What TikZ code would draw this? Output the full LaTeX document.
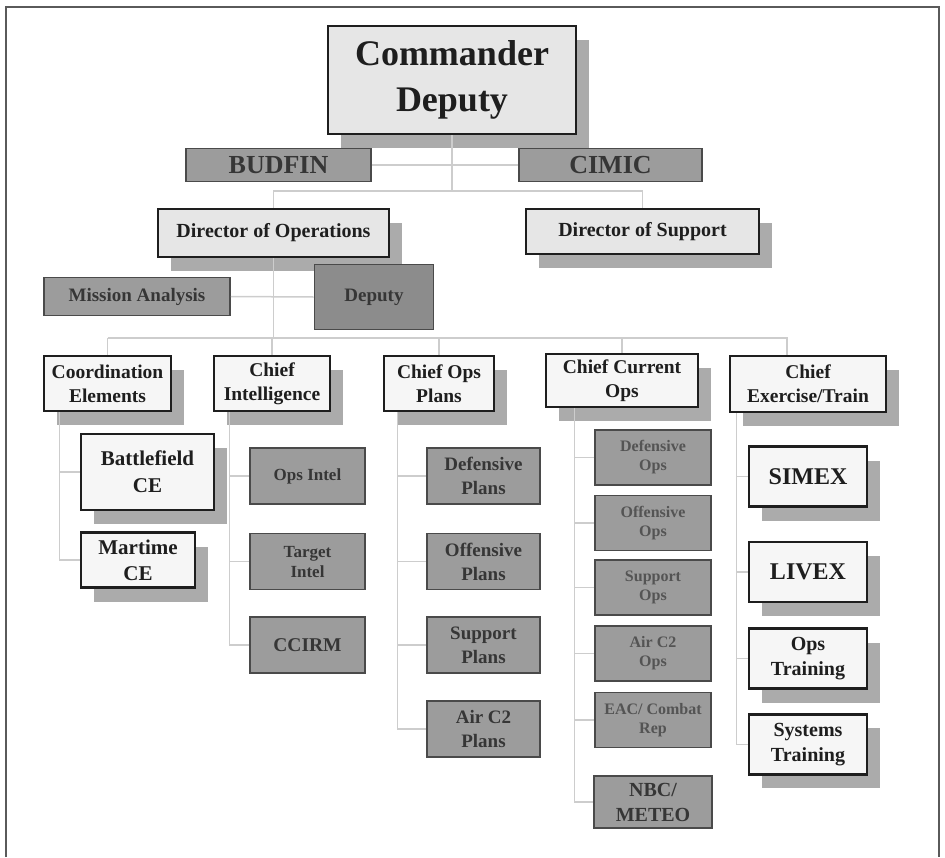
\documentclass[tikz,border=0pt]{standalone}
\usepackage{fontspec}
\setmainfont{Liberation Serif}
\usetikzlibrary{positioning, shadows}

\definecolor{paper}{HTML}{F6F6F6}
\definecolor{mist}{HTML}{E6E6E6}
\definecolor{ink}{HTML}{1E1E1E}
\definecolor{slate}{HTML}{9C9C9C}
\definecolor{slateline}{HTML}{4A4A4A}
\definecolor{slatetext}{HTML}{363636}
\definecolor{shade}{HTML}{ABABAB}
\definecolor{wire}{HTML}{CDCDCD}
\definecolor{rim}{HTML}{5A5A5A}

\newcommand{\fsz}[2]{\fontsize{#1}{#2}\selectfont}

\tikzset{
  dims/.style 2 args={minimum width=#1pt, minimum height=#2pt},
  lead/.style={draw=ink, line width=2.6pt, fill=paper, text=ink, align=center,
    inner sep=1pt, font=\bfseries,
    drop shadow={shadow xshift=13pt, shadow yshift=-14pt, opacity=1, fill=shade}},
  staff/.style={draw=slateline, line width=1.6pt, fill=slate, text=slatetext,
    align=center, inner sep=1pt, font=\bfseries},
  head/.style={lead, font=\bfseries\fsz{19.5}{24}},
  intelcell/.style={staff, dims={115}{56}, font=\bfseries\fsz{17}{20}},
  plancell/.style={staff, dims={113}{56}, font=\bfseries\fsz{19}{24}},
  curcell/.style={staff, dims={116}{55}, font=\bfseries\fsz{16}{19}, text=slatetext!85},
  drillcell/.style={lead, dims={118}{60}, font=\bfseries\fsz{20}{25}},
  link/.style={draw=wire, line width=1.5pt},
}

\begin{document}
\begin{tikzpicture}[x=1pt, y=-1pt]
  \useasboundingbox (0,0) rectangle (945,857);

  % Frame
  \draw[rim, line width=1.3pt] (6,857) -- (6,7) -- (939,7) -- (939,857);

  % Define nodes
  \node[lead, fill=mist, dims={248}{108}, font=\bfseries\fsz{36}{46}] (cmd) at (452,80) {Commander\\Deputy};
  \node[staff, dims={185}{33}, font=\bfseries\fsz{26}{28}] (budfin) at (278.5,165) {BUDFIN};
  \node[staff, dims={183}{33}, font=\bfseries\fsz{26}{28}] (cimic) at (610.5,165) {CIMIC};
  \node[lead, fill=mist, dims={231}{48}, font=\bfseries\fsz{20}{22}] (dirops) at (273.5,233) {Director of Operations};
  \node[lead, fill=mist, dims={233}{45}, font=\bfseries\fsz{20}{22}] (dirsup) at (642.5,231.5) {Director of Support};
  \node[staff, dims={186}{38}, font=\bfseries\fsz{19}{21}] (mission) at (137,296.5) {Mission Analysis};
  \node[staff, fill=slate!90!black, dims={119}{65}, font=\bfseries\fsz{19}{21}] (deputy) at (374,297) {Deputy};

  % Column heads
  \node[head, dims={127}{55}] (coord) at (107.5,383.5) {Coordination\\Elements};
  \node[head, dims={116}{55}] (intel) at (272,383.5) {Chief\\Intelligence};
  \node[head, dims={110}{55}] (plans) at (439,383.5) {Chief Ops\\Plans};
  \node[head, dims={152}{53}] (current) at (622,380.5) {Chief Current\\Ops};
  \node[head, dims={156}{56}] (exer) at (808,384) {Chief\\Exercise/Train};

  % Coordination elements
  \node[lead, dims={133}{76}, font=\bfseries\fsz{21}{27}] (battle) at (147.5,472) {Battlefield\\CE};
  \node[lead, dims={114}{55}, font=\bfseries\fsz{21}{26}, below right=20pt and 0pt of battle.south west] (marit) {Martime\\CE};

  % Intelligence
  \node[intelcell] (opsintel) at (307.5,476) {Ops Intel};
  \node[intelcell, below=28pt of opsintel] (tgtintel) {Target\\Intel};
  \node[intelcell, font=\bfseries\fsz{19.5}{22}, below=26pt of tgtintel] (ccirm) {CCIRM};

  % Ops plans
  \node[plancell] (defplans) at (483.5,476) {Defensive\\Plans};
  \node[plancell, below=28pt of defplans] (offplans) {Offensive\\Plans};
  \node[plancell, below=26pt of offplans] (supplans) {Support\\Plans};
  \node[plancell, below=26pt of supplans] (airplans) {Air C2\\Plans};

  % Current ops
  \node[curcell] (defops) at (653,457.5) {Defensive\\Ops};
  \node[curcell, below=9pt of defops] (offops) {Offensive\\Ops};
  \node[curcell, below=8pt of offops] (supops) {Support\\Ops};
  \node[curcell, below=9pt of supops] (airops) {Air C2\\Ops};
  \node[curcell, below=10pt of airops] (eac) {EAC/ Combat\\Rep};
  \node[curcell, dims={118}{52}, text=slatetext, font=\bfseries\fsz{20}{25}, below=27pt of eac] (nbc) {NBC/\\METEO};

  % Exercise and training
  \node[drillcell, font=\bfseries\fsz{24}{26}] (simex) at (808,476.5) {SIMEX};
  \node[drillcell, font=\bfseries\fsz{24}{26}, below=33pt of simex] (livex) {LIVEX};
  \node[drillcell, below=24pt of livex] (opstrain) {Ops\\Training};
  \node[drillcell, below=23pt of opstrain] (systrain) {Systems\\Training};

  % Connect the nodes
  \coordinate (hub) at (452,191);
  \coordinate (bus) at (273.5,338);
  \draw[link] (cmd.south) -- (hub);
  \draw[link] (dirops.north) |- (hub) -| (dirsup.north);
  \draw[link] (budfin.east) -- (cimic.west);
  \draw[link] (mission.east) -- (deputy.west);
  \draw[link] (dirops.south) -- (bus);
  \draw[link] (coord.north |- bus) -- ([xshift=-21pt]exer.north |- bus) -- ([xshift=-21pt]exer.north);
  \foreach \h in {coord, intel, plans, current}
    \draw[link] (\h.north |- bus) -- (\h.north);

  \foreach \c in {battle, marit}
    \draw[link] ([xshift=17pt]coord.south west) |- (\c.west);
  \foreach \c in {opsintel, tgtintel, ccirm}
    \draw[link] ([xshift=17pt]intel.south west) |- (\c.west);
  \foreach \c in {defplans, offplans, supplans, airplans}
    \draw[link] ([xshift=15pt]plans.south west) |- (\c.west);
  \foreach \c in {defops, offops, supops, airops, eac, nbc}
    \draw[link] ([xshift=30pt]current.south west) |- (\c.west);
  \foreach \c in {simex, livex, opstrain, systrain}
    \draw[link] ([xshift=8pt]exer.south west) |- (\c.west);

\end{tikzpicture}
\end{document}
